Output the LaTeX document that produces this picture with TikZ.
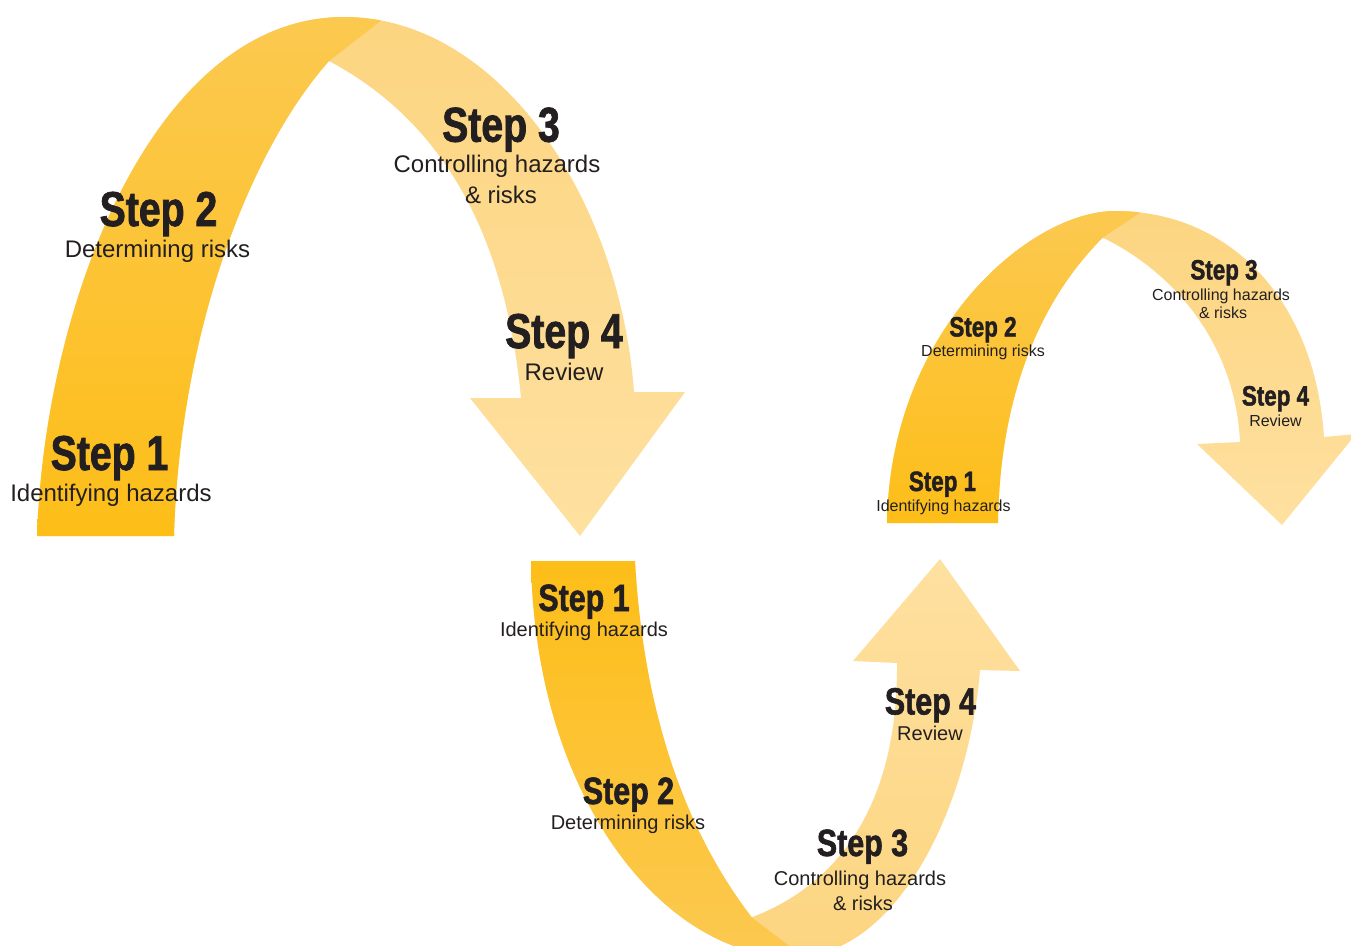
\documentclass[tikz,border=0pt]{standalone}
\usepackage{fontspec}
\setmainfont{Liberation Sans}
\newfontfamily\stepfont[FakeStretch=0.8,BoldFeatures={FakeBold=1.5}]{Liberation Sans}
\definecolor{ink}{RGB}{35,31,32}
\definecolor{goldA}{RGB}{253,190,24}
\definecolor{goldB}{RGB}{252,201,80}
\definecolor{paleA}{RGB}{252,213,128}
\definecolor{paleB}{RGB}{254,224,160}
\tikzset{
  steptitle/.style={anchor=base, inner sep=0pt, text=ink,
    font=\stepfont\bfseries\fontsize{#1}{#1}\selectfont},
  stepnote/.style={anchor=base, inner sep=0pt, text=ink,
    font=\fontsize{#1}{#1}\selectfont},
}
% outline of each ribbon arrow: outer edge, arrow head, inner edges
\def\bigband{(37,536) .. controls (45,300) and (155,17) .. (344,17)
  .. controls (500,17) and (620,200) .. (634,392)
  -- (685,392) -- (580,536) -- (470,398) -- (521,398)
  .. controls (505,230) and (440,120) .. (329,61)
  .. controls (250,150) and (180,330) .. (174,536) -- cycle}
\def\uband{(531,561) .. controls (535,800) and (665,957) .. (793,957)
  .. controls (900,957) and (970,800) .. (980,670)
  -- (1020,671) -- (940,559) -- (853,661) -- (897,663)
  .. controls (898,790) and (850,880) .. (751.7,917.3)
  .. controls (700,850) and (645,740) .. (635,561) -- cycle}
\def\smallband{(887,523) .. controls (890,330) and (1030,211) .. (1115,211)
  .. controls (1230,211) and (1315,300) .. (1324,437)
  -- (1356,434) -- (1282,525) -- (1197,444) -- (1240,442)
  .. controls (1235,340) and (1170,270) .. (1102.7,237.7)
  .. controls (1050,290) and (1000,380) .. (998,523) -- cycle}
\begin{document}
\begin{tikzpicture}[x=1pt,y=-1pt]
\useasboundingbox (0,0) rectangle (1351,945);
\clip (0,0) rectangle (1351,945);

% large arch
\shade[top color=paleA, bottom color=paleB] \bigband;
\begin{scope}
  \clip (-10,600) -- (-10,-60) -- (485,-60) -- (329,61) -- (329,600) -- cycle;
  \shade[top color=goldB, bottom color=goldA] \bigband;
\end{scope}

% U-shaped ribbon
\shade[top color=paleB, bottom color=paleA] \uband;
\begin{scope}
  \clip (480,540) -- (480,1010) -- (860,1000) -- (751.7,917.3) -- (751.7,540) -- cycle;
  \shade[top color=goldA, bottom color=goldB] \uband;
\end{scope}

% small arch
\shade[top color=paleA, bottom color=paleB] \smallband;
\begin{scope}
  \clip (860,560) -- (860,150) -- (1233.5,150) -- (1102.7,237.7) -- (1102.7,560) -- cycle;
  \shade[top color=goldB, bottom color=goldA] \smallband;
\end{scope}

% labels, large arch
\node[steptitle=49] (b1t) at (109.5,470) {Step 1};
\node[stepnote=24]  (b1n) at (111,501) {Identifying hazards};
\node[steptitle=49] (b2t) at (158.5,226) {Step 2};
\node[stepnote=24]  (b2n) at (157.5,257) {Determining risks};
\node[steptitle=49] (b3t) at (501,141.7) {Step 3};
\node[stepnote=24]  (b3n) at (497,172) {Controlling hazards};
\node[stepnote=24]  (b3m) at (501,203) {\& risks};
\node[steptitle=49] (b4t) at (564,348) {Step 4};
\node[stepnote=24]  (b4n) at (564,380) {Review};

% labels, U-shaped ribbon
\node[steptitle=38] (u1t) at (584,611) {Step 1};
\node[stepnote=20]  (u1n) at (584,636.5) {Identifying hazards};
\node[steptitle=38] (u2t) at (628.5,804) {Step 2};
\node[stepnote=20]  (u2n) at (628,829.5) {Determining risks};
\node[steptitle=38] (u3t) at (862.5,856) {Step 3};
\node[stepnote=20]  (u3n) at (860,885) {Controlling hazards};
\node[stepnote=20]  (u3m) at (863,910) {\& risks};
\node[steptitle=38] (u4t) at (930.5,714.5) {Step 4};
\node[stepnote=20]  (u4n) at (930,740.5) {Review};

% labels, small arch
\node[steptitle=28] (s1t) at (942.5,491) {Step 1};
\node[stepnote=16]  (s1n) at (943.5,511) {Identifying hazards};
\node[steptitle=28] (s2t) at (983,336.5) {Step 2};
\node[stepnote=16]  (s2n) at (983,356.5) {Determining risks};
\node[steptitle=28] (s3t) at (1224,279.5) {Step 3};
\node[stepnote=16]  (s3n) at (1221,300) {Controlling hazards};
\node[stepnote=16]  (s3m) at (1223,318.5) {\& risks};
\node[steptitle=28] (s4t) at (1275.5,405.5) {Step 4};
\node[stepnote=16]  (s4n) at (1275.5,426.5) {Review};
\end{tikzpicture}
\end{document}
